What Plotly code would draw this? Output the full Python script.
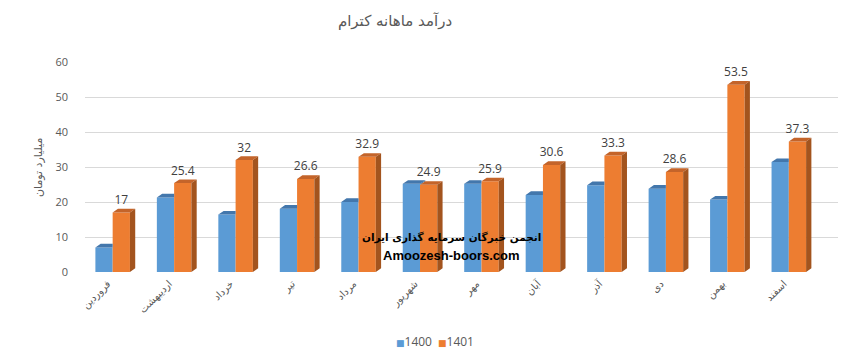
import plotly.graph_objects as go

months = ["فروردین", "اردیبهشت", "خرداد", "تیر", "مرداد", "شهریور",
          "مهر", "آبان", "آذر", "دی", "بهمن", "اسفند"]
vals_1400 = [7.0, 21.3, 16.4, 18.1, 20.0, 25.2, 25.2, 22.0, 24.8, 23.8, 20.7, 31.4]
vals_1401 = [17, 25.4, 32, 26.6, 32.9, 24.9, 25.9, 30.6, 33.3, 28.6, 53.5, 37.3]
series_names = ["1400", "1401"]

BLUE, BLUE_TOP, BLUE_SIDE = "#5B9BD5", "#4377AC", "#3A6A99"
ORANGE, ORANGE_TOP, ORANGE_SIDE = "#ED7D31", "#C4642A", "#A3541E"
W, DX, DY = 0.281, 0.086, 1.05
GREY = "#595959"
FONT = "Open Sans, DejaVu Sans, sans-serif"

# the page body adds an 8px offset; the figure is sized to fill the rest
FW, FH = 839, 352
ML, MR, MT, MB = 77, 9, 54, 88

xs = list(range(len(months)))

fig = go.Figure()
fig.add_trace(go.Bar(x=xs, y=vals_1400, offset=-W, width=W, name=series_names[0],
                     showlegend=False, marker=dict(color=BLUE, line=dict(width=0))))
fig.add_trace(go.Bar(x=xs, y=vals_1401, offset=0, width=W, name=series_names[1],
                     showlegend=False, marker=dict(color=ORANGE, line=dict(width=0))))


def poly_trace(px, py, color):
    return go.Scatter(x=px, y=py, mode="lines", fill="toself", fillcolor=color,
                      line=dict(width=0, color=color), hoverinfo="skip",
                      showlegend=False)


# blue (rear-left) top and visible side faces
btx, bty, bsx, bsy = [], [], [], []
for i, (v, vo) in enumerate(zip(vals_1400, vals_1401)):
    x0, x1 = i - W, i
    if v > vo:
        btx += [x0, x1, x1 + DX, x0 + DX, x0, None]
        bty += [v, v, v + DY, v + DY, v, None]
        bsx += [x1, x1 + DX, x1 + DX, x1, x1, None]
        bsy += [vo, vo + DY, v + DY, v, vo, None]
    else:
        btx += [x0, x1, x1, x0 + DX, x0, None]
        bty += [v, v, v + DY, v + DY, v, None]
fig.add_trace(poly_trace(btx, bty, BLUE_TOP))
if bsx:
    fig.add_trace(poly_trace(bsx, bsy, BLUE_SIDE))

# orange top and side faces
otx, oty, osx, osy = [], [], [], []
for i, v in enumerate(vals_1401):
    x0, x1 = i, i + W
    otx += [x0, x1, x1 + DX, x0 + DX, x0, None]
    oty += [v, v, v + DY, v + DY, v, None]
    osx += [x1, x1 + DX, x1 + DX, x1, x1, None]
    osy += [0, DY, v + DY, v, 0, None]
fig.add_trace(poly_trace(otx, oty, ORANGE_TOP))
fig.add_trace(poly_trace(osx, osy, ORANGE_SIDE))

# data labels for 1401
fig.add_trace(go.Scatter(x=[i + W / 2 for i in xs], y=[v + DY + 0.5 for v in vals_1401],
                         mode="text", text=[f"{v:g}" for v in vals_1401],
                         textposition="top center",
                         textfont=dict(size=12, color="#404040", family=FONT),
                         hoverinfo="skip", showlegend=False, cliponaxis=False))

PW = FW - ML - MR
PH = FH - MT - MB


def px_x(page_x):
    return (page_x - 8 - ML) / PW


def px_y(page_y):
    return (FH - MB - (page_y - 8)) / PH


def legend_item(name, color, page_x):
    return dict(text=f"<span style='color:{color};font-size:9px'>■</span>{name}",
                xref="paper", yref="paper", x=px_x(page_x), y=px_y(341),
                xanchor="left", yanchor="middle", showarrow=False,
                font=dict(size=12, color=GREY, family=FONT))


legend_items = [legend_item(series_names[0], BLUE, 394),
                legend_item(series_names[1], ORANGE, 436)]

fig.update_layout(
    width=FW, height=FH,
    margin=dict(l=ML, r=MR, t=MT, b=MB, autoexpand=False),
    paper_bgcolor="white", plot_bgcolor="white",
    barmode="overlay",
    showlegend=False,
    font=dict(family=FONT, color=GREY, size=11),
    title=dict(text="درآمد ماهانه کترام", x=(395 - 8) / FW, xanchor="center",
               y=1 - 7 / FH, yanchor="top", yref="container",
               font=dict(size=15, color=GREY, family="DejaVu Sans")),
    xaxis=dict(range=[-0.45, 11.8], tickvals=xs, ticktext=months, tickangle=-45,
               showgrid=False, zeroline=False, showline=False, ticks="",
               automargin=False, ticklabelshift=-5, ticklabelstandoff=3,
               tickfont=dict(size=10, color=GREY, family="DejaVu Sans")),
    yaxis=dict(range=[0, 60], dtick=10, showgrid=True, gridcolor="#D9D9D9",
               gridwidth=1, zeroline=False, showline=False, ticks="",
               ticklabelstandoff=16, automargin=False,
               tickfont=dict(size=11, color=GREY)),
    annotations=[
        dict(text="میلیارد تومان", xref="paper", yref="paper",
             x=px_x(38), y=px_y(168), textangle=-90, showarrow=False,
             xanchor="center", yanchor="middle",
             font=dict(size=11, color=GREY, family="DejaVu Sans")),
        dict(text="<b>انجمن خبرگان سرمایه گذاری ایران</b>", xref="paper", yref="paper",
             x=px_x(451), y=px_y(237), showarrow=False,
             xanchor="center", yanchor="middle",
             font=dict(size=10.5, color="black", family="DejaVu Sans")),
        dict(text="<b>Amoozesh-boors.com</b>", xref="paper", yref="paper",
             x=px_x(451), y=px_y(255), showarrow=False,
             xanchor="center", yanchor="middle",
             font=dict(size=13, color="black", family="Liberation Sans, Arial")),
    ] + legend_items,
)

fig.write_html("out.html")
